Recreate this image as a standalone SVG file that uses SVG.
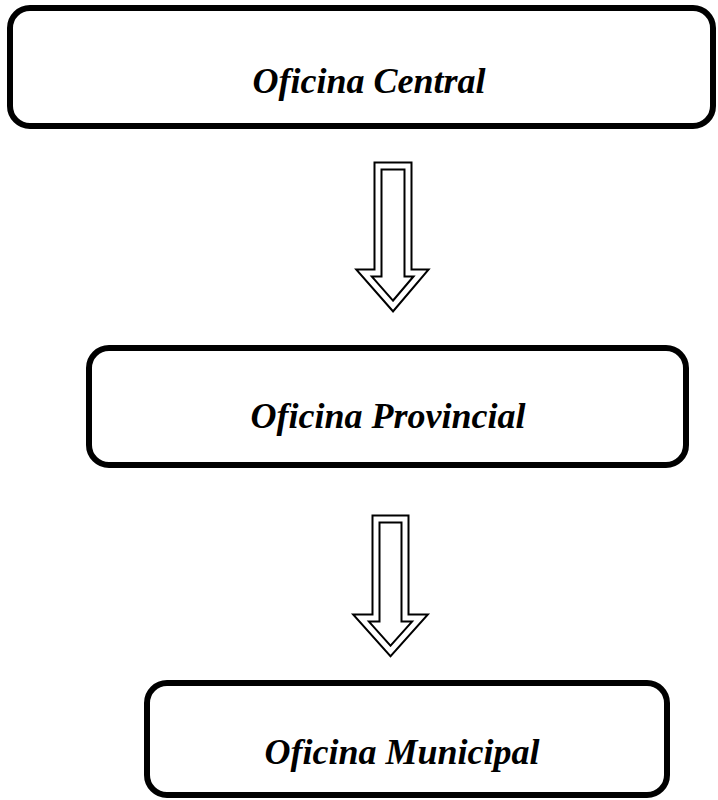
<svg xmlns="http://www.w3.org/2000/svg" width="718" height="800" viewBox="0 0 718 800">
<style>
.box{fill:#fff;stroke:#000;stroke-width:6}
.lbl{font-family:"Liberation Serif","Times New Roman",serif;font-weight:bold;font-style:italic;font-size:36px;text-anchor:middle;fill:#000}
.arO{fill:#fff;stroke:#000;stroke-width:9;stroke-linejoin:miter;stroke-miterlimit:10}
.arI{fill:none;stroke:#fff;stroke-width:5;stroke-linejoin:miter;stroke-miterlimit:10}
</style>
<rect width="718" height="800" fill="#fff"/>
<g id="central">
<rect class="box" x="10" y="8" width="703" height="118" rx="20"/>
<text class="lbl" x="369" y="93">Oficina Central</text>
</g>
<g id="provincial">
<rect class="box" x="89" y="348" width="597" height="117" rx="20"/>
<text class="lbl" x="388" y="428">Oficina Provincial</text>
</g>
<g id="municipal">
<rect class="box" x="147" y="683" width="520" height="112" rx="20"/>
<text class="lbl" x="402" y="764">Oficina Municipal</text>
</g>
<g id="connectors">
<path class="arO" d="M378,166 H408 V273 H421 L393,306 L364,273 H378 Z"/>
<path class="arI" d="M378,166 H408 V273 H421 L393,306 L364,273 H378 Z"/>
<path class="arO" d="M376,519 H405 V618 H420 L390.5,651 L361,618 H376 Z"/>
<path class="arI" d="M376,519 H405 V618 H420 L390.5,651 L361,618 H376 Z"/>
</g>
</svg>
